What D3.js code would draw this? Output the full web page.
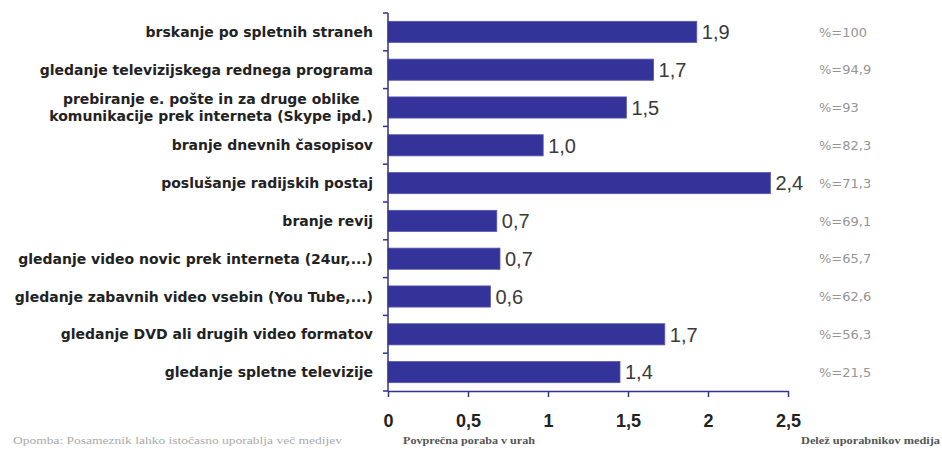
<!DOCTYPE html>
<html>
<head>
<meta charset="utf-8">
<script src="https://cdn.jsdelivr.net/npm/d3@7"></script>
<style>
  body { margin: 0; background: #fff; font-family: "Liberation Sans", Arial, sans-serif; }
</style>
</head>
<body>
<div id="chart"></div>
<script>
const categories = [
  ["brskanje po spletnih straneh"],
  ["gledanje televizijskega rednega programa"],
  ["prebiranje e. pošte in za druge oblike", "komunikacije prek interneta (Skype ipd.)"],
  ["branje dnevnih časopisov"],
  ["poslušanje radijskih postaj"],
  ["branje revij"],
  ["gledanje video novic prek interneta (24ur,...)"],
  ["gledanje zabavnih video vsebin (You Tube,...)"],
  ["gledanje DVD ali drugih video formatov"],
  ["gledanje spletne televizije"]
];
const hours = [1.93, 1.66, 1.49, 0.97, 2.39, 0.68, 0.70, 0.64, 1.73, 1.45];
const hourLabels = ["1,9", "1,7", "1,5", "1,0", "2,4", "0,7", "0,7", "0,6", "1,7", "1,4"];
const shareLabels = ["%=100", "%=94,9", "%=93", "%=82,3", "%=71,3", "%=69,1", "%=65,7", "%=62,6", "%=56,3", "%=21,5"];
const xTicks = [0, 0.5, 1, 1.5, 2, 2.5];

const W = 942, H = 451;
const plotL = 388, plotR = 788, plotT = 13, plotB = 391;
const labelRight = 373;

const svg = d3.select("#chart").append("svg")
  .attr("width", W).attr("height", H);

const x = d3.scaleLinear().domain([0, 2.5]).range([plotL, plotR]);
const y = d3.scaleBand().domain(d3.range(categories.length)).range([plotT, plotB]).paddingInner(0.44).paddingOuter(0.22);
const yTicks = d3.scaleBand().domain(d3.range(categories.length)).range([plotT, plotB]);

// bars
svg.append("g").selectAll("rect")
  .data(hours)
  .enter().append("rect")
  .attr("x", x(0))
  .attr("y", (d, i) => y(i))
  .attr("width", d => x(d) - x(0))
  .attr("height", y.bandwidth())
  .attr("fill", "#333399")
  .attr("stroke", "#5a5ab0")
  .attr("stroke-width", 0.8);

// value labels
svg.append("g").selectAll("text")
  .data(hours)
  .enter().append("text")
  .attr("x", d => x(d) + 5)
  .attr("y", (d, i) => y(i) + y.bandwidth() / 2)
  .attr("dy", "0.36em")
  .attr("font-size", 20)
  .attr("fill", "#3a3a3a")
  .text((d, i) => hourLabels[i]);

// share column
svg.append("g").selectAll("text")
  .data(shareLabels)
  .enter().append("text")
  .attr("x", 819)
  .attr("y", (d, i) => y(i) + y.bandwidth() / 2)
  .attr("dy", "0.36em")
  .attr("font-family", "DejaVu Sans, sans-serif")
  .attr("font-size", 13)
  .attr("fill", "#959595")
  .text(d => d);

// category labels (multi-line ones are centred on their widest line)
const cat = svg.append("g").selectAll("text")
  .data(categories)
  .enter().append("text")
  .attr("text-anchor", "end")
  .attr("font-family", "DejaVu Sans, sans-serif")
  .attr("font-size", 14)
  .attr("font-weight", "bold")
  .attr("fill", "#222")
  .attr("y", (d, i) => y(i) + y.bandwidth() / 2);
cat.each(function (d) {
  const t = d3.select(this);
  d.forEach((line, j) => {
    t.append("tspan")
      .attr("x", labelRight)
      .attr("dy", j === 0 ? (0.36 - (d.length - 1) * 0.6) + "em" : "1.2em")
      .text(line);
  });
  if (d.length > 1) {
    const widest = d3.max(t.selectAll("tspan").nodes(), n => n.getComputedTextLength());
    t.attr("text-anchor", "middle");
    t.selectAll("tspan").attr("x", labelRight - widest / 2);
  }
});

// y axis (ticks between categories)
const axisColor = "#333388";
svg.append("line")
  .attr("x1", plotL).attr("x2", plotL)
  .attr("y1", plotT).attr("y2", plotB)
  .attr("stroke", axisColor).attr("stroke-width", 1.5);
svg.append("g").selectAll("line")
  .data(d3.range(categories.length + 1))
  .enter().append("line")
  .attr("x1", plotL - 5).attr("x2", plotL)
  .attr("y1", i => i < categories.length ? yTicks(i) : plotB)
  .attr("y2", i => i < categories.length ? yTicks(i) : plotB)
  .attr("stroke", axisColor).attr("stroke-width", 1.5);

// x axis
const xAxis = svg.append("g")
  .attr("transform", `translate(0,${plotB})`)
  .call(d3.axisBottom(x).tickValues(xTicks).tickSize(6).tickSizeOuter(0)
    .tickFormat(d => String(d).replace(".", ",")));
xAxis.select(".domain").attr("stroke", axisColor).attr("stroke-width", 1.5);
xAxis.selectAll(".tick line").attr("stroke", axisColor).attr("stroke-width", 1.5);
xAxis.selectAll(".tick text")
  .attr("y", 23)
  .attr("font-size", 18)
  .attr("font-weight", "bold")
  .attr("font-family", "Liberation Sans, Arial, sans-serif")
  .attr("fill", "#222");

// footnotes
svg.append("text").attr("x", 13).attr("y", 444)
  .attr("font-family", "Liberation Serif, serif")
  .attr("font-size", 10).attr("fill", "#aaa")
  .attr("textLength", 329).attr("lengthAdjust", "spacingAndGlyphs")
  .text("Opomba: Posameznik lahko istočasno uporablja več medijev");
svg.append("text").attr("x", 403).attr("y", 444)
  .attr("font-family", "Liberation Serif, serif")
  .attr("font-size", 10).attr("font-weight", "bold").attr("fill", "#555")
  .attr("textLength", 132).attr("lengthAdjust", "spacingAndGlyphs")
  .text("Povprečna poraba v urah");
svg.append("text").attr("x", 801).attr("y", 444)
  .attr("font-family", "Liberation Serif, serif")
  .attr("font-size", 10).attr("font-weight", "bold").attr("fill", "#555")
  .attr("textLength", 139).attr("lengthAdjust", "spacingAndGlyphs")
  .text("Delež uporabnikov medija");
</script>
</body>
</html>
